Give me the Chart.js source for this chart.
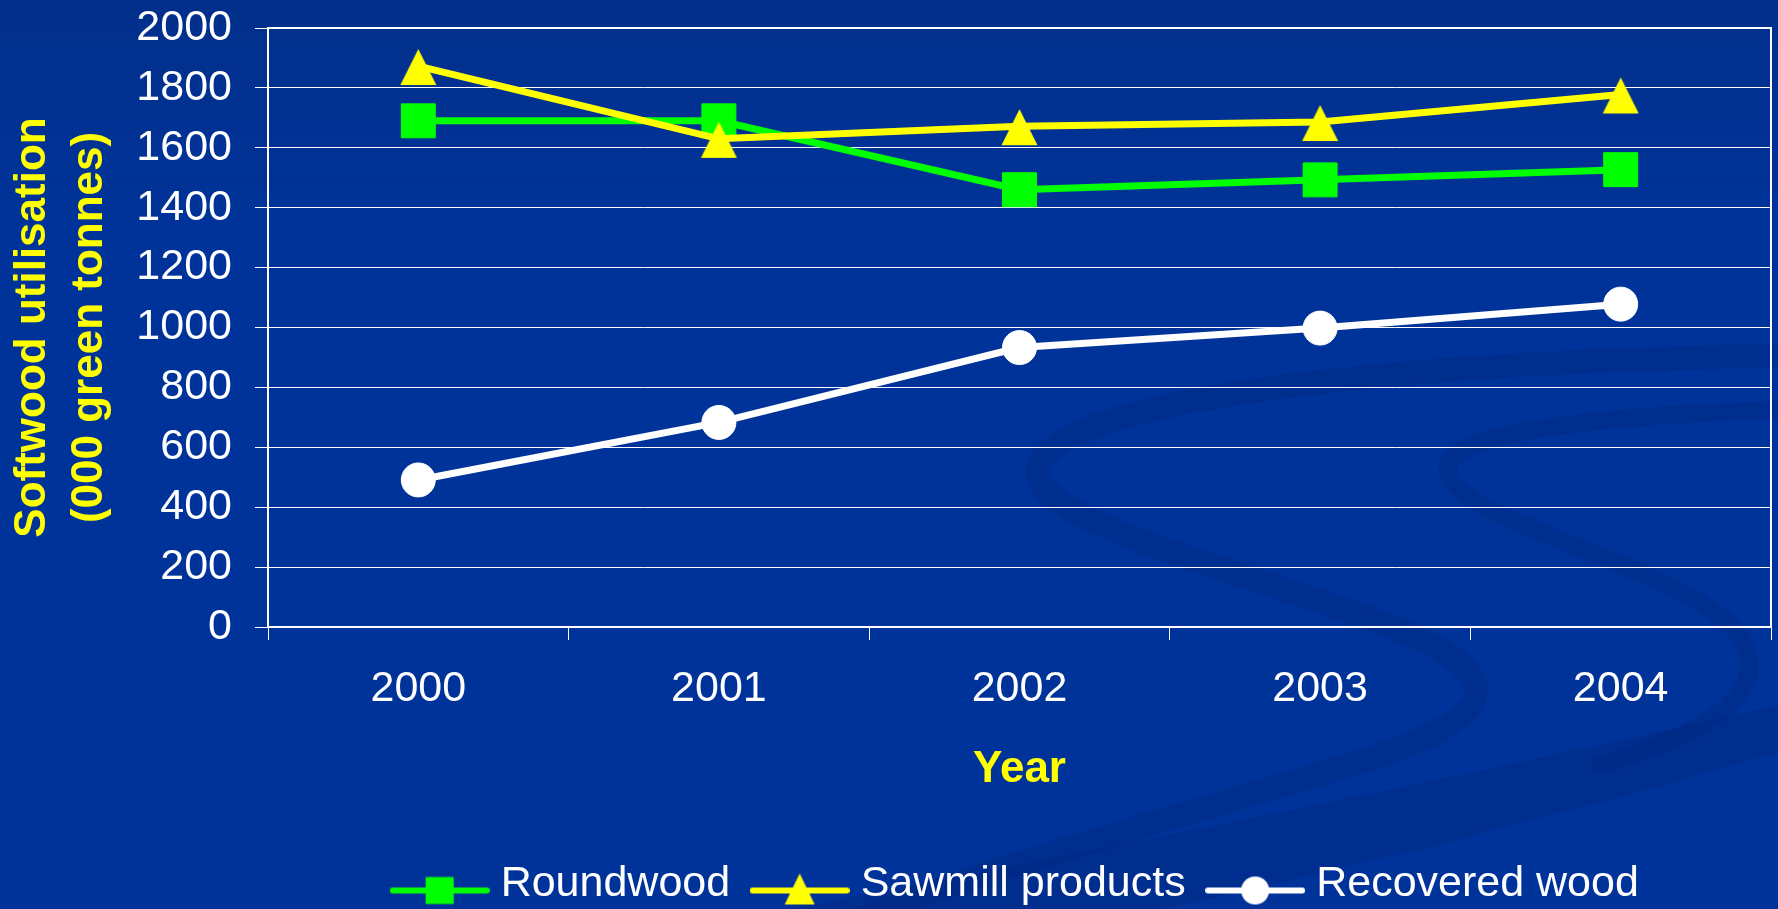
<!DOCTYPE html>
<html>
<head>
<meta charset="utf-8">
<title>Softwood utilisation</title>
<script src="https://cdn.jsdelivr.net/npm/chart.js@4.4.1/dist/chart.umd.min.js"></script>
<style>
  html, body { margin: 0; padding: 0; background: #003399; }
  #wrap { width: 1778px; height: 909px; }
</style>
</head>
<body>
<div id="wrap"><canvas id="chartUtil" width="1778" height="909"></canvas></div>
<script>
// Softwood utilisation by source, '000 green tonnes
const years = ['2000', '2001', '2002', '2003', '2004'];
const roundwood = [1690, 1690, 1460, 1493, 1527];
const sawmill = [1873, 1630, 1672, 1686, 1778];
const recovered = [491, 683, 933, 998, 1078];

const seriesNames = ['Roundwood', 'Sawmill products', 'Recovered wood'];
const seriesColors = ['#00ff00', '#ffff00', '#ffffff'];

const yMin = 0;
const yMax = 2000;
const yStep = 200;

const fontFamily = '"Liberation Sans", Arial, Helvetica, sans-serif';

// triangle marker as a small image so the point sits in the middle of it
function triangleMarker(color) {
    const c = document.createElement('canvas');
    c.width = 37;
    c.height = 40;
    const g = c.getContext('2d');
    g.fillStyle = color;
    g.beginPath();
    g.moveTo(18.5, 3);
    g.lineTo(36.5, 39);
    g.lineTo(0.5, 39);
    g.closePath();
    g.fill();
    return c;
}

// legend glyph: a short line with the series marker on it
function legendGlyph(color, shape) {
    const c = document.createElement('canvas');
    c.width = 100;
    c.height = 46;
    const g = c.getContext('2d');
    const cx = 50, cy = 29;
    g.strokeStyle = color;
    g.fillStyle = color;
    g.lineWidth = 6;
    g.lineCap = 'round';
    g.beginPath();
    g.moveTo(3, cy);
    g.lineTo(97, cy);
    g.stroke();
    g.beginPath();
    if (shape === 'rect') {
        g.rect(cx - 14, cy - 13.5, 28, 27);
    } else if (shape === 'triangle') {
        g.moveTo(cx, cy - 17);
        g.lineTo(cx + 15, cy + 14);
        g.lineTo(cx - 15, cy + 14);
        g.closePath();
    } else {
        g.arc(cx, cy, 14, 0, Math.PI * 2);
    }
    g.fill();
    return c;
}

const legendGlyphs = [
    legendGlyph(seriesColors[0], 'rect'),
    legendGlyph(seriesColors[1], 'triangle'),
    legendGlyph(seriesColors[2], 'circle')
];

// slide background with the darker swooshes
const backdrop = {
    id: 'backdrop',
    beforeDraw(chart) {
        const { ctx, width, height } = chart;
        ctx.save();
        const grad = ctx.createLinearGradient(0, 0, 0, height);
        grad.addColorStop(0, '#022f8b');
        grad.addColorStop(0.25, '#003399');
        grad.addColorStop(1, '#003399');
        ctx.fillStyle = grad;
        ctx.fillRect(0, 0, width, height);

        ctx.strokeStyle = 'rgba(0, 30, 115, 0.25)';
        ctx.lineCap = 'round';

        ctx.lineWidth = 24;
        ctx.beginPath();
        ctx.moveTo(width, 356);
        ctx.bezierCurveTo(1500, 360, 1110, 385, 1045, 455);
        ctx.bezierCurveTo(990, 515, 1250, 570, 1400, 630);
        ctx.bezierCurveTo(1530, 685, 1480, 725, 1350, 765);
        ctx.bezierCurveTo(1150, 825, 950, 880, 860, height + 10);
        ctx.stroke();

        ctx.lineWidth = 18;
        ctx.beginPath();
        ctx.moveTo(width, 410);
        ctx.bezierCurveTo(1620, 415, 1440, 430, 1448, 472);
        ctx.bezierCurveTo(1455, 520, 1660, 560, 1730, 625);
        ctx.bezierCurveTo(1790, 690, 1700, 735, 1600, 765);
        ctx.stroke();

        ctx.fillStyle = 'rgba(0, 30, 115, 0.25)';
        ctx.beginPath();
        ctx.moveTo(width, 705);
        ctx.lineTo(width, 752);
        ctx.bezierCurveTo(1550, 820, 1300, 880, 1160, height);
        ctx.lineTo(790, height);
        ctx.bezierCurveTo(1100, 850, 1450, 780, width, 705);
        ctx.closePath();
        ctx.fill();
        ctx.restore();
    }
};

// white frame round the plot area
const plotFrame = {
    id: 'plotFrame',
    beforeDatasetsDraw(chart) {
        const { ctx, chartArea: a } = chart;
        ctx.save();
        ctx.strokeStyle = '#ffffff';
        ctx.lineWidth = 2;
        ctx.strokeRect(a.left, a.top, a.right - a.left, a.bottom - a.top);
        ctx.restore();
    }
};

function lineDataset(i, values, style, radius) {
    return {
        label: seriesNames[i],
        data: values,
        borderColor: seriesColors[i],
        backgroundColor: seriesColors[i],
        borderWidth: 7,
        pointStyle: style,
        pointRadius: radius,
        pointHoverRadius: radius,
        pointBackgroundColor: seriesColors[i],
        pointBorderColor: seriesColors[i],
        pointBorderWidth: 1,
        tension: 0,
        fill: false,
        clip: false,
        order: 3 - i
    };
}

const ctx = document.getElementById('chartUtil').getContext('2d');
new Chart(ctx, {
    type: 'line',
    data: {
        labels: years,
        datasets: [
            lineDataset(0, roundwood, 'rect', 24),
            lineDataset(1, sawmill, triangleMarker(seriesColors[1]), 20),
            lineDataset(2, recovered, 'circle', 17)
        ]
    },
    options: {
        responsive: false,
        devicePixelRatio: 1,
        animation: false,
        layout: {
            autoPadding: false,
            padding: { top: 28, right: 7, bottom: 0, left: 0 }
        },
        scales: {
            x: {
                offset: true,
                afterFit(scale) {
                    scale.height = 206;
                    scale.paddingLeft = 0;
                    scale.paddingRight = 0;
                },
                grid: {
                    offset: true,
                    drawOnChartArea: false,
                    drawTicks: true,
                    tickLength: 13,
                    color: '#ffffff',
                    lineWidth: 1
                },
                border: { display: true, color: '#ffffff', width: 2 },
                ticks: {
                    color: '#ffffff',
                    padding: 23,
                    font: { family: fontFamily, size: 43 }
                },
                title: {
                    display: true,
                    text: 'Year',
                    color: '#ffff00',
                    font: { family: fontFamily, size: 44, weight: 'bold', lineHeight: 1.2 },
                    padding: { top: 4, bottom: 37 }
                }
            },
            y: {
                min: yMin,
                max: yMax,
                afterFit(scale) {
                    scale.width = 268;
                    scale.paddingTop = 0;
                    scale.paddingBottom = 0;
                },
                grid: {
                    color: '#ffffff',
                    lineWidth: 1,
                    drawTicks: true,
                    tickLength: 13
                },
                border: { display: true, color: '#ffffff', width: 2 },
                ticks: {
                    stepSize: yStep,
                    color: '#ffffff',
                    padding: 23,
                    font: { family: fontFamily, size: 43 },
                    callback: value => String(value)
                },
                title: {
                    display: true,
                    text: ['Softwood utilisation', '(000 green tonnes)'],
                    color: '#ffff00',
                    font: { family: fontFamily, size: 44, weight: 'bold', lineHeight: 1.3 },
                    padding: { top: 4, bottom: 0 }
                }
            }
        },
        plugins: {
            legend: {
                position: 'bottom',
                fullSize: false,
                maxHeight: 76,
                labels: {
                    usePointStyle: true,
                    pointStyleWidth: 79,
                    padding: 30,
                    color: '#ffffff',
                    font: { family: fontFamily, size: 43 },
                    generateLabels(chart) {
                        return chart.data.datasets.map((ds, i) => ({
                            text: ds.label,
                            fillStyle: ds.borderColor,
                            strokeStyle: ds.borderColor,
                            fontColor: '#ffffff',
                            lineWidth: 0,
                            pointStyle: legendGlyphs[i],
                            hidden: false,
                            datasetIndex: i
                        }));
                    }
                }
            },
            tooltip: { enabled: false }
        }
    },
    plugins: [backdrop, plotFrame]
});
</script>
</body>
</html>
